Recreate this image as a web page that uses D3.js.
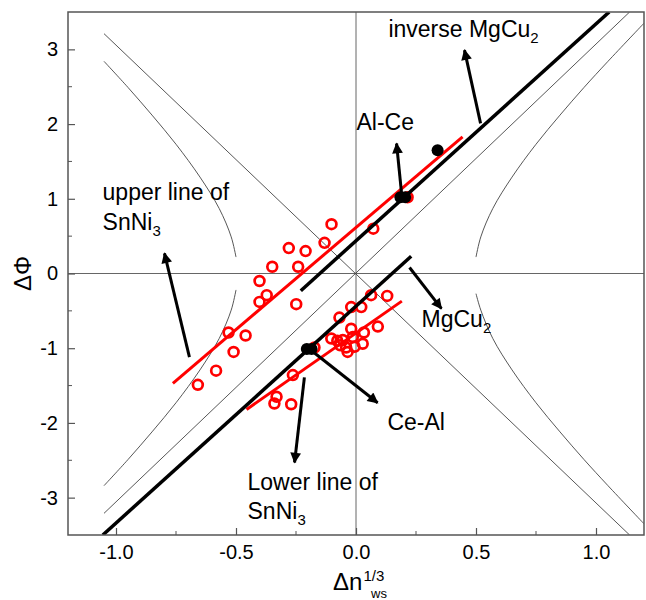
<!DOCTYPE html>
<html>
<head>
<meta charset="utf-8">
<script src="https://cdn.jsdelivr.net/npm/d3@7"></script>
<style>
  body { margin: 0; background: #fff; }
  text { font-family: "Liberation Sans", Arial, sans-serif; }
</style>
</head>
<body>
<div id="chart"></div>
<script>
// open red circles: alloys, [dn, dPhi]
var upperPoints = [
  [-0.659, -1.49], [-0.583, -1.30], [-0.531, -0.79], [-0.510, -1.05], [-0.460, -0.83],
  [-0.402, -0.10], [-0.402, -0.38], [-0.372, -0.29], [-0.349, 0.09], [-0.280, 0.34],
  [-0.241, 0.09], [-0.249, -0.41], [-0.210, 0.30], [-0.131, 0.41], [-0.102, 0.66],
  [0.072, 0.60], [0.215, 1.02]
];
var lowerPoints = [
  [0.063, -0.29], [0.130, -0.30], [-0.020, -0.45], [0.022, -0.45], [-0.069, -0.59],
  [0.091, -0.71], [-0.020, -0.74], [0.033, -0.79], [-0.103, -0.87], [-0.055, -0.89],
  [-0.013, -0.85], [0.028, -0.94], [-0.041, -0.99], [-0.006, -0.98], [-0.066, -0.96],
  [-0.078, -0.90], [-0.035, -1.05], [-0.173, -0.99], [-0.263, -1.36], [-0.331, -1.65],
  [-0.340, -1.74], [-0.270, -1.75]
];
// filled black points (Al-Ce, Ce-Al)
var blackPoints = [[0.185, 1.02], [0.205, 1.02], [0.34, 1.65], [-0.205, -1.01], [-0.185, -1.01]];

// fitted red lines
var upperFit = [[-0.763, -1.47], [0.444, 1.83]];
var lowerFit = [[-0.456, -1.82], [0.191, -0.37]];

// thick black boundary lines
var mgcu2Line = [[-1.055, -3.5], [0.23, 0.23]];
var inverseLine = [[-0.23, -0.23], [1.055, 3.5]];

// thin reference curves
var diagUp = [[-1.05, -3.21], [1.14, 3.5]];
var diagDown = [[-1.05, 3.21], [1.14, -3.5]];
var hypUpperLeft = [[-1.05, 2.84], [-0.95, 2.49], [-0.85, 2.12], [-0.75, 1.73], [-0.65, 1.29], [-0.57, 0.87], [-0.52, 0.49], [-0.50, 0.22]];
var hypLowerLeft = [[-1.05, -2.84], [-0.95, -2.49], [-0.85, -2.12], [-0.75, -1.73], [-0.65, -1.29], [-0.57, -0.87], [-0.52, -0.49], [-0.50, -0.22]];
var hypUpperRight = [[0.50, 0.22], [0.52, 0.49], [0.57, 0.87], [0.65, 1.29], [0.75, 1.73], [0.85, 2.12], [0.95, 2.49], [1.05, 2.84], [1.2, 3.35]];
var hypLowerRight = [[0.50, -0.27], [0.52, -0.49], [0.57, -0.87], [0.65, -1.29], [0.75, -1.73], [0.85, -2.12], [0.95, -2.49], [1.05, -2.84], [1.2, -3.35]];

// arrows [from, to]
var arrows = [
  [[-0.694, -1.12], [-0.798, 0.27]],
  [[0.519, 2.01], [0.452, 2.99]],
  [[0.19, 1.07], [0.169, 1.74]],
  [[0.223, 0.08], [0.356, -0.47]],
  [[-0.194, -1.01], [0.090, -1.73]],
  [[-0.215, -1.39], [-0.256, -2.53]]
];
// labels: [x, y, text, subscript]
var labels = [
  [0.135, 3.16, "inverse MgCu", "2"],
  [0.002, 1.92, "Al-Ce", ""],
  [-1.056, 0.98, "upper line of", ""],
  [-1.056, 0.58, "SnNi", "3"],
  [0.273, -0.72, "MgCu", "2"],
  [0.131, -2.10, "Ce-Al", ""],
  [-0.452, -2.90, "Lower line of", ""],
  [-0.452, -3.29, "SnNi", "3"]
];

var xTicks = [-1.0, -0.5, 0.0, 0.5, 1.0];
var xMinor = [-0.75, -0.25, 0.25, 0.75];
var yTicks = [-3, -2, -1, 0, 1, 2, 3];
var yMinor = [-2.5, -1.5, -0.5, 0.5, 1.5, 2.5];

var W = 646, H = 600;
var margin = {left: 68, top: 12, right: 2, bottom: 65};

var x = d3.scaleLinear().domain([-1.2, 1.2]).range([margin.left, W - margin.right]);
var y = d3.scaleLinear().domain([-3.5, 3.5]).range([H - margin.bottom, margin.top]);

var svg = d3.select("#chart").append("svg")
    .attr("width", W)
    .attr("height", H);

svg.append("defs").append("clipPath").attr("id", "clip")
  .append("rect")
    .attr("x", margin.left).attr("y", margin.top)
    .attr("width", W - margin.left - margin.right)
    .attr("height", H - margin.top - margin.bottom);

svg.append("defs").append("marker")
    .attr("id", "head")
    .attr("viewBox", "0 0 10 10")
    .attr("refX", 9).attr("refY", 5)
    .attr("markerWidth", 4.2).attr("markerHeight", 3.6)
    .attr("markerUnits", "strokeWidth")
    .attr("orient", "auto")
  .append("path")
    .attr("d", "M0,0 L10,5 L0,10 Z")
    .attr("fill", "#000");

var line = d3.line().x(d => x(d[0])).y(d => y(d[1]));
var curve = d3.line().x(d => x(d[0])).y(d => y(d[1])).curve(d3.curveCatmullRom);

var plot = svg.append("g").attr("clip-path", "url(#clip)");

// zero lines
plot.append("line")
    .attr("x1", x(0)).attr("x2", x(0))
    .attr("y1", y(-3.5)).attr("y2", y(3.5))
    .attr("stroke", "#666").attr("stroke-width", 1);
plot.append("line")
    .attr("x1", x(-1.2)).attr("x2", x(1.2))
    .attr("y1", y(0)).attr("y2", y(0))
    .attr("stroke", "#666").attr("stroke-width", 1);

[diagUp, diagDown].forEach(function (d) {
  plot.append("path").attr("d", line(d))
      .attr("fill", "none").attr("stroke", "#444").attr("stroke-width", 0.9);
});
[hypUpperLeft, hypLowerLeft, hypUpperRight, hypLowerRight].forEach(function (d) {
  plot.append("path").attr("d", curve(d))
      .attr("fill", "none").attr("stroke", "#444").attr("stroke-width", 0.9);
});

// red fits
[upperFit, lowerFit].forEach(function (d) {
  plot.append("path").attr("d", line(d))
      .attr("fill", "none").attr("stroke", "#f00").attr("stroke-width", 3);
});

plot.selectAll(".pt")
    .data(upperPoints.concat(lowerPoints))
    .enter().append("circle")
    .attr("class", "pt")
    .attr("cx", d => x(d[0]))
    .attr("cy", d => y(d[1]))
    .attr("r", 4.9)
    .attr("fill", "none")
    .attr("stroke", "#f00")
    .attr("stroke-width", 2.7);

// black boundary lines
[mgcu2Line, inverseLine].forEach(function (d) {
  plot.append("path").attr("d", line(d))
      .attr("fill", "none").attr("stroke", "#000").attr("stroke-width", 3.5);
});

plot.selectAll(".bp")
    .data(blackPoints)
    .enter().append("circle")
    .attr("class", "bp")
    .attr("cx", d => x(d[0]))
    .attr("cy", d => y(d[1]))
    .attr("r", 6)
    .attr("fill", "#000");

// arrows
svg.selectAll(".arrow")
    .data(arrows)
    .enter().append("path")
    .attr("class", "arrow")
    .attr("d", d => line(d))
    .attr("stroke", "#000")
    .attr("stroke-width", 3)
    .attr("fill", "none")
    .attr("marker-end", "url(#head)");

// frame
svg.append("rect")
    .attr("x", margin.left).attr("y", margin.top)
    .attr("width", W - margin.left - margin.right)
    .attr("height", H - margin.top - margin.bottom)
    .attr("fill", "none")
    .attr("stroke", "#555")
    .attr("stroke-width", 1.5);

// axes, ticks inward
var xAxis = svg.append("g")
    .attr("transform", "translate(0," + y(-3.5) + ")")
    .call(d3.axisBottom(x).tickValues(xTicks).tickSize(-7).tickPadding(10).tickFormat(d => d.toFixed(1)));
xAxis.append("g").selectAll("line")
    .data(xMinor)
    .enter().append("line")
    .attr("x1", d => x(d)).attr("x2", d => x(d))
    .attr("y1", 0).attr("y2", -4)
    .attr("stroke", "#555");

var yAxis = svg.append("g")
    .attr("transform", "translate(" + x(-1.2) + ",0)")
    .call(d3.axisLeft(y).tickValues(yTicks).tickSize(-7).tickPadding(10).tickFormat(d => String(d)));
yAxis.append("g").selectAll("line")
    .data(yMinor)
    .enter().append("line")
    .attr("y1", d => y(d)).attr("y2", d => y(d))
    .attr("x1", 0).attr("x2", 4)
    .attr("stroke", "#555");

[xAxis, yAxis].forEach(function (a) {
  a.select(".domain").remove();
  a.selectAll(".tick line").attr("stroke", "#555").attr("stroke-width", 1.2);
  a.selectAll(".tick text")
      .attr("fill", "#000")
      .style("font-size", "20px")
      .style("font-family", "'Liberation Sans', Arial, sans-serif");
});

// annotations
var lab = svg.selectAll(".lab")
    .data(labels)
    .enter().append("text")
    .attr("class", "lab")
    .attr("x", d => x(d[0]))
    .attr("y", d => y(d[1]))
    .style("font-size", "23px")
    .attr("fill", "#000");
lab.append("tspan").text(d => d[2]);
lab.append("tspan")
    .attr("dy", 6)
    .style("font-size", "15px")
    .text(d => d[3]);

// axis titles
svg.append("text")
    .attr("transform", "translate(31," + y(0) + ") rotate(-90)")
    .attr("text-anchor", "middle")
    .style("font-size", "24px")
    .text("ΔΦ");

var xt = svg.append("text")
    .attr("x", 333)
    .attr("y", 590)
    .style("font-size", "24px");
xt.append("tspan").text("Δn");
xt.append("tspan").attr("dy", -9).attr("dx", 1).style("font-size", "15px").text("1/3");
xt.append("tspan").attr("x", 371).attr("y", 598).style("font-size", "13px").text("ws");
</script>
</body>
</html>
